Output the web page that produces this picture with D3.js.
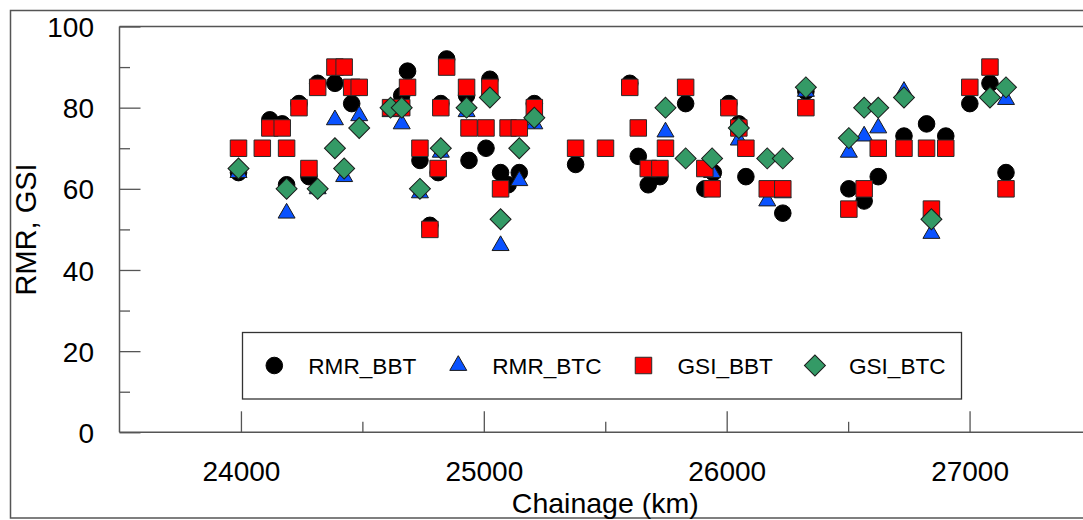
<!DOCTYPE html>
<html>
<head>
<meta charset="utf-8">
<script src="https://cdn.jsdelivr.net/npm/d3@7"></script>
<style>
  body { margin: 0; background: #fff; }
  svg { display: block; font-family: "Liberation Sans", Arial, sans-serif; }
</style>
</head>
<body>
<svg width="1083" height="520"></svg>
<script>
// [chainage, value]
const rmrBbt = [
  [23990, 64], [24119, 77], [24170, 76], [24188, 61], [24239, 81], [24280, 63],
  [24316, 86], [24387, 86], [24456, 81], [24662, 83], [24686, 89], [24737, 67],
  [24778, 51], [24812, 64], [24823, 81], [24847, 92], [24929, 83], [24939, 67],
  [25009, 70], [25025, 87], [25069, 64], [25100, 61], [25146, 64], [25208, 81],
  [25378, 66], [25601, 86], [25636, 68], [25677, 61], [25725, 63], [25831, 81],
  [25910, 60], [25945, 64], [26009, 81], [26050, 76], [26079, 63], [26231, 54],
  [26326, 84], [26503, 60], [26566, 57], [26624, 63], [26730, 73], [26823, 76],
  [26902, 73], [27001, 81], [27084, 86], [27150, 64]
];
const rmrBtc = [
  [23990, 64], [24188, 54], [24316, 60], [24387, 77], [24425, 63], [24487, 78],
  [24616, 79], [24662, 76], [24737, 59], [24823, 69], [24929, 79], [25069, 46],
  [25146, 62], [25208, 76], [25748, 74], [25940, 64], [26050, 72], [26167, 57],
  [26231, 59], [26326, 84], [26503, 69], [26566, 73], [26624, 75], [26730, 84],
  [26843, 49], [27150, 82]
];
const gsiBbt = [
  [23990, 70], [24088, 70], [24119, 75], [24170, 75], [24188, 70], [24239, 80],
  [24280, 65], [24316, 85], [24387, 90], [24425, 90], [24456, 85], [24487, 85],
  [24616, 80], [24662, 80], [24686, 85], [24737, 70], [24778, 50], [24812, 65],
  [24823, 80], [24847, 90], [24929, 85], [24939, 75], [25009, 75], [25025, 85],
  [25069, 60], [25100, 75], [25146, 75], [25208, 80], [25378, 70], [25501, 70],
  [25601, 85], [25636, 75], [25677, 65], [25725, 65], [25748, 70], [25831, 85],
  [25910, 65], [25940, 60], [26009, 80], [26050, 75], [26079, 70], [26167, 60],
  [26231, 60], [26326, 80], [26503, 55], [26566, 60], [26624, 70], [26730, 70],
  [26823, 70], [26843, 55], [26902, 70], [27001, 85], [27084, 90], [27150, 60]
];
const gsiBtc = [
  [23990, 65], [24188, 60], [24316, 60], [24387, 70], [24425, 65], [24487, 75],
  [24616, 80], [24662, 80], [24737, 60], [24823, 70], [24929, 80], [25025, 82.5],
  [25069, 52.5], [25146, 70], [25208, 77.5], [25748, 80], [25831, 67.5], [25940, 67.5],
  [26050, 75], [26167, 67.5], [26231, 67.5], [26326, 85], [26503, 72.5], [26566, 80],
  [26624, 80], [26730, 82.5], [26843, 52.5], [27084, 82.5], [27150, 85]
];
const xMajor = [24000, 25000, 26000, 27000];
const xMinor = [24500, 25500, 26500];
const yMajor = [0, 20, 40, 60, 80, 100];
const yMinor = [10, 30, 50, 70, 90];
const seriesNames = ["RMR_BBT", "RMR_BTC", "GSI_BBT", "GSI_BTC"];

const svg = d3.select("svg");
const axisCol = "#555";

const x = d3.scaleLinear().domain([23500, 27500]).range([119.5, 1091]);
const y = d3.scaleLinear().domain([0, 100]).range([432.3, 26.5]);

// outer frame (right side is off the picture)
svg.append("rect")
  .attr("x", 10.5).attr("y", 10.5).attr("width", 1100).attr("height", 507.5)
  .attr("fill", "none").attr("stroke", axisCol).attr("stroke-width", 1.5);

// plot frame
const frame = svg.append("g").attr("stroke", axisCol).attr("stroke-width", 1.5);
frame.append("line").attr("x1", x(23500)).attr("x2", x(27500)).attr("y1", y(100)).attr("y2", y(100));
frame.append("line").attr("x1", x(23500)).attr("x2", x(27500)).attr("y1", y(0)).attr("y2", y(0));
frame.append("line").attr("x1", x(23500)).attr("x2", x(23500)).attr("y1", y(0)).attr("y2", y(100));

function styleAxis(g) {
  g.select(".domain").remove();
  g.selectAll(".tick line").attr("stroke", axisCol).attr("stroke-width", 1.3);
  g.selectAll("text").attr("fill", "#000").attr("font-family", "Liberation Sans, Arial, sans-serif");
}

svg.append("g").attr("transform", `translate(0,${y(0)})`)
  .call(d3.axisBottom(x).tickValues(xMinor).tickSize(-10.5).tickFormat(""))
  .call(styleAxis);
svg.append("g").attr("transform", `translate(0,${y(0)})`)
  .call(d3.axisBottom(x).tickValues(xMajor).tickSize(-21).tickPadding(29).tickFormat(d3.format("d")))
  .call(styleAxis)
  .selectAll("text").attr("font-size", 28);

svg.append("g").attr("transform", `translate(${x(23500)},0)`)
  .call(d3.axisLeft(y).tickValues(yMinor).tickSize(-10.5).tickFormat(""))
  .call(styleAxis);
svg.append("g").attr("transform", `translate(${x(23500)},0)`)
  .call(d3.axisLeft(y).tickValues(yMajor).tickSize(-21).tickPadding(25.5))
  .call(styleAxis)
  .selectAll("text").attr("font-size", 28).attr("dy", "0.36em");

// axis titles
svg.append("text")
  .attr("x", (x(23500) + x(27500)) / 2).attr("y", 513)
  .attr("text-anchor", "middle").attr("font-size", 28.5)
  .text("Chainage (km)");
svg.append("text")
  .attr("transform", `translate(36,${(y(0) + y(100)) / 2}) rotate(-90)`)
  .attr("text-anchor", "middle").attr("font-size", 29)
  .text("RMR, GSI");

// marker styles
const styles = [
  { sym: d3.symbolCircle, size: 216, fill: "#000", stroke: "#000", rot: 0 },
  { sym: d3.symbolTriangle, size: 125, fill: "#0a52ff", stroke: "#1a1a1a", rot: 0 },
  { sym: d3.symbolSquare, size: 272, fill: "#ff0000", stroke: "#2a2a2a", rot: 0 },
  { sym: d3.symbolSquare, size: 220, fill: "#349a66", stroke: "#1a1a1a", rot: 45 }
];
const allSeries = [rmrBbt, rmrBtc, gsiBbt, gsiBtc];

allSeries.forEach((data, i) => {
  const st = styles[i];
  svg.append("g").selectAll("path")
    .data(data)
    .join("path")
    .attr("d", d3.symbol(st.sym, st.size))
    .attr("transform", d => `translate(${x(d[0])},${y(d[1])}) rotate(${st.rot})`)
    .attr("fill", st.fill)
    .attr("stroke", st.stroke)
    .attr("stroke-width", 1);
});

// legend
const legend = svg.append("g");
legend.append("rect")
  .attr("x", 242.5).attr("y", 332.5).attr("width", 719).attr("height", 66.5)
  .attr("fill", "#fff").attr("stroke", "#333").attr("stroke-width", 1.3);
let lx = 274.3;
const ly = 365.5;
seriesNames.forEach((name, i) => {
  const st = styles[i];
  legend.append("path")
    .attr("d", d3.symbol(st.sym, st.size))
    .attr("transform", `translate(${lx},${ly}) rotate(${st.rot})`)
    .attr("fill", st.fill).attr("stroke", st.stroke).attr("stroke-width", 1);
  const t = legend.append("text")
    .attr("x", lx + 34).attr("y", ly).attr("dy", "0.36em")
    .attr("font-size", 22.6).text(name);
  lx = lx + 34 + t.node().getComputedTextLength() + 42;
});
</script>
</body>
</html>
